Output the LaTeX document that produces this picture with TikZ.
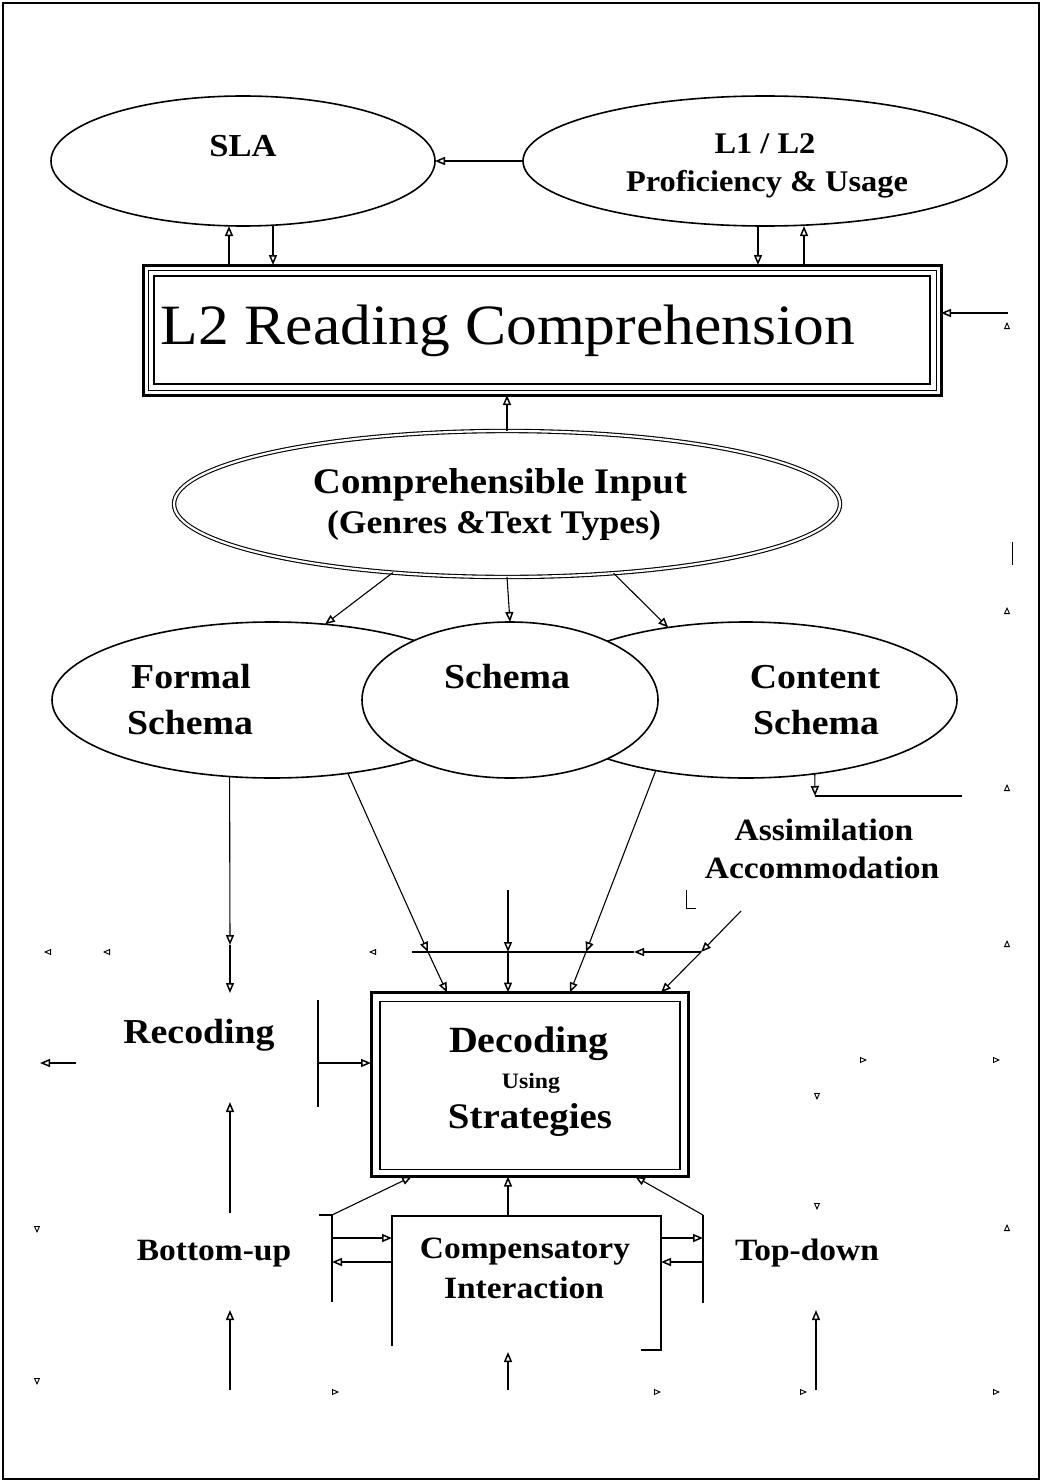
\documentclass[tikz,border=0pt]{standalone}
\usepackage{fontspec}
\setmainfont{Liberation Serif}[FakeStretch=1.08]
\newfontfamily\titlefont{Liberation Serif}[FakeStretch=1.08]
\usetikzlibrary{shapes.geometric,arrows.meta,calc}
\newcommand\myfs[1]{\fontsize{#1}{#1}\selectfont}
\begin{document}
\begin{tikzpicture}[x=1pt,y=-1pt,
  every node/.style={inner sep=0pt,outer sep=0pt},
  ln/.style={line width=1.1pt},
  arr/.style={ln,-{Triangle[open,length=10pt,width=8pt,line width=1.5pt]}},
  frag/.style={line width=0.9pt,-{Triangle[open,length=7pt,width=6pt]}},
  oval/.style={draw,ellipse,line width=1.6pt},
  lbl/.style={anchor=base,align=center}]
\useasboundingbox (0,0) rectangle (1042,1482);
\draw[line width=2.5pt] (3,3) rectangle (1039,1479);

% ---- top ellipses
\node[oval,minimum width=384pt,minimum height=130pt] (sla) at (243,161) {};
\node[oval,minimum width=484pt,minimum height=130pt] (lone) at (765,161) {};
\node[lbl,font=\bfseries\myfs{32}] (slat) at (243,157) {SLA};
\node[lbl,font=\bfseries\myfs{30}] (lonet) at (765,154) {L1 / L2};
\node[lbl,font=\bfseries\myfs{30}] (lonet2) at (767,192) {Proficiency \& Usage};
\draw[arr] (lone.west) -- (sla.east);

% ---- L2 reading comprehension box
\node[draw,line width=3pt,minimum width=798pt,minimum height=130pt] (ltwo) at (542,330) {};
\draw[line width=1pt] ([shift={(5pt,-5pt)}]ltwo.north west) rectangle ([shift={(-5pt,5pt)}]ltwo.south east);
\draw[line width=2pt] ([shift={(11pt,-11pt)}]ltwo.north west) rectangle ([shift={(-11pt,11pt)}]ltwo.south east);
\node[lbl,font=\titlefont\myfs{57}] (title) at (508,344) {L2 Reading Comprehension};

\draw[arr] ([xshift=-14pt]sla.south |- ltwo.north) -- ([xshift=-14pt]sla.south);
\draw[arr] ([xshift=30pt]sla.south) -- ([xshift=30pt]sla.south |- ltwo.north);
\draw[arr] ([xshift=-7pt]lone.south) -- ([xshift=-7pt]lone.south |- ltwo.north);
\draw[arr] ([xshift=39pt]lone.south |- ltwo.north) -- ([xshift=39pt]lone.south);
\coordinate (rin) at (1008,313);
\draw[arr] (rin) -- (rin -| ltwo.east);

% ---- comprehensible input
\node[draw,ellipse,line width=1.1pt,double,double distance=2.2pt,minimum width=666pt,minimum height=146pt] (ci) at (507,504) {};
\node[lbl,font=\bfseries\myfs{36}] (cit) at (500,493) {Comprehensible Input};
\node[lbl,font=\bfseries\myfs{33}] (cit2) at (494,533) {(Genres \&Text Types)};
\draw[arr] (ci.north) -- (ci.north |- ltwo.south);

% ---- schemas
\node[oval,minimum width=440pt,minimum height=156pt] (formal) at (272,700) {};
\node[oval,minimum width=422pt,minimum height=156pt] (content) at (746,700) {};
\node[oval,fill=white,minimum width=296pt,minimum height=156pt] (schema) at (510,700) {};
\node[lbl,font=\bfseries\myfs{35}] (ft1) at (191,688) {Formal};
\node[lbl,font=\bfseries\myfs{35}] (ft2) at (190,734) {Schema};
\node[lbl,font=\bfseries\myfs{35}] (st1) at (507,688) {Schema};
\node[lbl,font=\bfseries\myfs{35}] (ct1) at (815,688) {Content};
\node[lbl,font=\bfseries\myfs{35}] (ct2) at (816,734) {Schema};

\draw[arr] (ci.-149) -- (formal.55);
\draw[arr] (ci.south) -- (schema.north);
\draw[arr] (ci.-33) -- (content.137);

% content -> assimilation
\coordinate (cv) at (815,796);
\coordinate (cvr) at (962,796);
\draw[arr] (content.-47) -- (cv);
\draw[line width=1.5pt] (cv) -- (cvr);
\node[lbl,font=\bfseries\myfs{31}] (asm) at (824,840) {Assimilation};
\node[lbl,font=\bfseries\myfs{31}] (acc) at (822,878) {Accommodation};
\coordinate (Lm1) at (686,890);
\coordinate (Lm2) at (686,908);
\coordinate (Lm3) at (696,908);
\draw[line width=1pt] (Lm1) -- (Lm2) -- (Lm3);

% ---- decoding box
\node[draw,line width=3pt,minimum width=317pt,minimum height=184pt] (dec) at (529.5,1084.5) {};
\draw[line width=1.5pt] ([shift={(9pt,-9pt)}]dec.north west) rectangle ([shift={(-8pt,7pt)}]dec.south east);
\node[lbl,font=\bfseries\myfs{37}] (dect) at (529,1052) {Decoding};
\node[lbl,font=\bfseries\myfs{22}] (usg) at (531,1088) {Using};
\node[lbl,font=\bfseries\myfs{36}] (strt) at (530,1128) {Strategies};

% horizontal collector line
\coordinate (hF) at (412,952);
\coordinate (hA) at (428,952);
\coordinate (hB) at (508,952);
\coordinate (hC) at (586,952);
\coordinate (hE) at (634,952);
\coordinate (hD) at (701,952);
\draw[arr] (hD) -- (hE);
\draw[ln] (hE) -- (hF);

\coordinate (mtop) at (508,890);
\coordinate (asA) at (741,911);
\draw[arr] (formal.-44) -- (hA);
\draw[arr] (hA) -- ([xshift=-82.5pt]dec.north);
\draw[arr] (mtop) -- (hB);
\draw[arr] (hB) -- ([xshift=-21.5pt]dec.north);
\draw[arr] (content.-142) -- (hC);
\draw[arr] (hC) -- ([xshift=40.5pt]dec.north);
\draw[arr] (asA) -- (hD);
\draw[arr] (hD) -- ([xshift=131.5pt]dec.north);

% ---- recoding
\coordinate (rA) at (230,945);
\coordinate (rB) at (230,993);
\draw[arr] (formal.-119) -- (rA);
\draw[arr] (rA) -- (rB);
\node[lbl,font=\bfseries\myfs{35}] (rec) at (199,1043) {Recoding};
\coordinate (vl1) at (318,1000);
\coordinate (vl2) at (318,1107);
\coordinate (rl) at (318,1063);
\draw[ln] (vl1) -- (vl2);
\draw[arr] (rl) -- (rl -| dec.west);
\coordinate (ru1) at (230,1213);
\coordinate (ru2) at (230,1102);
\draw[arr] (ru1) -- (ru2);

% ---- bottom part
\coordinate (bl0) at (319,1215);
\coordinate (bl1) at (332,1215);
\coordinate (bl2) at (332,1302);
\coordinate (br1) at (703,1215);
\coordinate (br2) at (703,1303);
\draw[ln] (bl0) -- (bl1) -- (bl2);
\draw[ln] (br1) -- (br2);
\coordinate (cb1) at (392,1346);
\coordinate (cb2) at (392,1216);
\coordinate (cb3) at (661,1216);
\coordinate (cb4) at (661,1350);
\coordinate (cb5) at (641,1350);
\coordinate (cbt) at (508,1216);
\draw[line width=1.3pt] (cb1) -- (cb2) -- (cb3) -- (cb4) -- (cb5);
\node[lbl,font=\bfseries\myfs{31}] (cmp1) at (525,1258) {Compensatory};
\node[lbl,font=\bfseries\myfs{31}] (cmp2) at (524,1298) {Interaction};
\node[lbl,font=\bfseries\myfs{31}] (bu) at (214,1260) {Bottom-up};
\node[lbl,font=\bfseries\myfs{31}] (td) at (807,1260) {Top-down};

\draw[arr] (bl1) -- ([xshift=-117.5pt]dec.south);
\draw[arr] (cbt) -- ([xshift=-21.5pt]dec.south);
\draw[arr] (br1) -- ([xshift=105.5pt]dec.south);

\coordinate (ha1) at (332,1238);
\coordinate (ha2) at (392,1238);
\coordinate (ha3) at (392,1262);
\coordinate (ha4) at (332,1262);
\coordinate (hb1) at (661,1238);
\coordinate (hb2) at (703,1238);
\coordinate (hb3) at (703,1262);
\coordinate (hb4) at (661,1262);
\draw[arr] (ha1) -- (ha2);
\draw[arr] (ha3) -- (ha4);
\draw[arr] (hb1) -- (hb2);
\draw[arr] (hb3) -- (hb4);

\coordinate (u1a) at (230,1390);
\coordinate (u1b) at (230,1310);
\coordinate (u2a) at (816,1390);
\coordinate (u2b) at (816,1310);
\coordinate (u3a) at (508,1390);
\coordinate (u3b) at (508,1352);
\draw[arr] (u1a) -- (u1b);
\draw[arr] (u2a) -- (u2b);
\draw[arr] (u3a) -- (u3b);

% ---- faded fragments of the outer loop
\coordinate (la1) at (76,1063);
\coordinate (la2) at (40,1063);
\draw[arr] (la1) -- (la2);
\coordinate (bar1) at (1012,542);
\coordinate (bar2) at (1012,565);
\draw[line width=1pt] (bar1) -- (bar2);
\foreach \y in {325,610,787,943,1227} \draw[frag] (1007,\y+3) -- (1007,\y-3);
\foreach \x/\y in {817/1097,817/1207,37/1230,37/1382} \draw[frag] (\x,\y-3) -- (\x,\y+3);
\foreach \x/\y in {864/1060,997/1060,336/1392,658/1392,804/1392,997/1392} \draw[frag] (\x-3,\y) -- (\x+3,\y);
\foreach \x in {47,106,372} \draw[frag] (\x+3,952) -- (\x-3,952);
\end{tikzpicture}
\end{document}
